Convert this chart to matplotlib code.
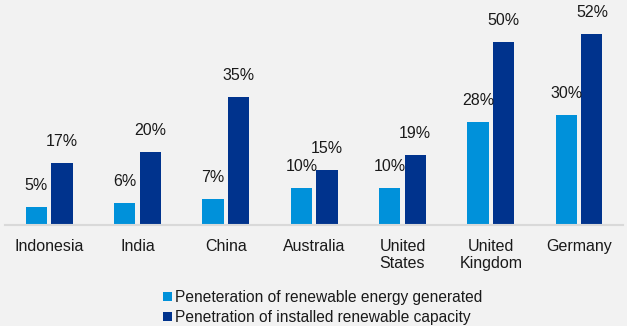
import matplotlib.pyplot as plt
import numpy as np

# Datos
paises = ["Indonesia", "India", "China", "Australia", "United\nStates", "United\nKingdom", "Germany"]
generada = [5, 6, 7, 10, 10, 28, 30]
capacidad = [17, 20, 35, 15, 19, 50, 52]
etiqueta_generada = "Peneteration of renewable energy generated"
etiqueta_capacidad = "Penetration of installed renewable capacity"

plt.rcParams['font.family'] = ['Liberation Sans', 'DejaVu Sans']

color_claro = "#0091DA"
color_oscuro = "#00338D"
fondo = "#F2F2F2"
texto = "#1a1a1a"
tam = 11.5

fig = plt.figure(figsize=(6.27, 3.26), dpi=100, facecolor=fondo)
ax = fig.add_axes([0.008, 0.31, 0.986, 0.675], facecolor=fondo)

x = np.arange(len(paises))
ancho = 0.24
desp = 0.145

b1 = ax.bar(x - desp, generada, ancho, color=color_claro, label=etiqueta_generada)
b2 = ax.bar(x + desp, capacidad, ancho, color=color_oscuro, label=etiqueta_capacidad)

# Etiquetas de valores
for barras in (b1, b2):
    for rect in barras:
        h = rect.get_height()
        ax.annotate(f"{h:.0f}%", (rect.get_x() + rect.get_width() / 2, h),
                    xytext=(0, 10), textcoords="offset points",
                    ha="center", va="bottom", fontsize=tam, color=texto)

ax.set_xlim(-0.5, len(paises) - 0.5)
ax.set_ylim(0, 60)
ax.set_xticks(x)
ax.set_xticklabels(paises, fontsize=tam, color=texto, linespacing=1.15)
ax.tick_params(axis="x", length=0, pad=10)
ax.set_yticks([])
for lado in ("top", "right", "left"):
    ax.spines[lado].set_visible(False)
ax.spines["bottom"].set_color("#D9D9D9")
ax.spines["bottom"].set_linewidth(1.5)

fig.legend(handles=[b1, b2], loc="upper left", bbox_to_anchor=(0.248, 0.135),
           frameon=False, fontsize=11.2, handlelength=0.55, handleheight=0.55,
           handletextpad=0.2, labelspacing=0.32, borderpad=0, labelcolor=texto)

fig.savefig("out.png", dpi=100, facecolor=fondo)
